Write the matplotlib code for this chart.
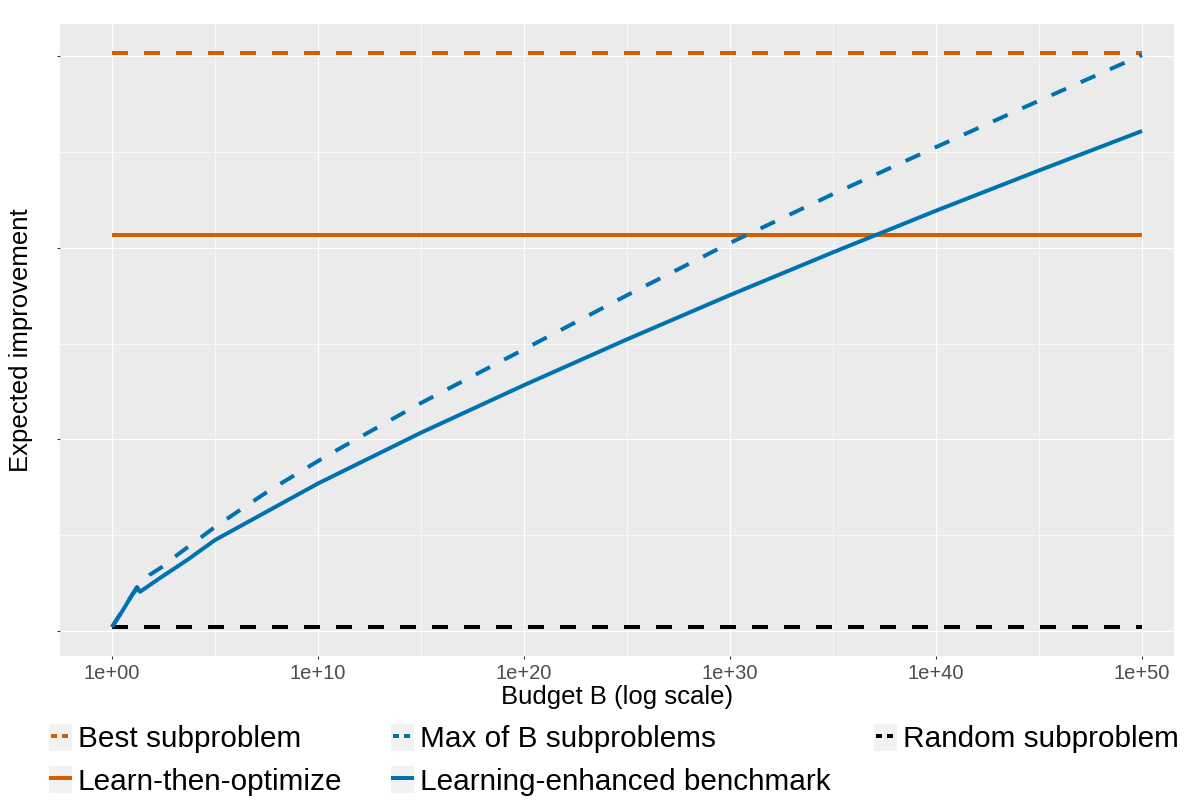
import matplotlib
matplotlib.use("Agg")
import matplotlib.pyplot as plt
import numpy as np
from matplotlib.lines import Line2D
from matplotlib.patches import Rectangle
from matplotlib.legend_handler import HandlerLine2D
from matplotlib.ticker import FixedLocator, NullFormatter

plt.rcParams['font.family'] = ['Liberation Sans', 'DejaVu Sans']

# data (budget given as power of ten)
best_exp = [0, 50]
best_vals = [3.016, 3.016]
lto_exp = [0, 50]
lto_vals = [2.066, 2.066]
random_exp = [0, 50]
random_vals = [0.021, 0.021]

max_exp = [0, 1.0, 1.84, 2.48, 3.2, 5.0, 6.36, 7.67, 9.03, 10.4, 15, 20, 25, 30, 35, 40, 45, 50]
max_vals = [0.021, 0.193, 0.294, 0.338, 0.40, 0.543, 0.642, 0.736, 0.824, 0.913,
            1.19, 1.47, 1.752, 2.025, 2.28, 2.525, 2.767, 3.005]

leb_exp = [0, 0.5, 1.0, 1.21, 1.36, 2.33, 3.64, 5.0, 10, 15, 20, 25, 30, 35, 40, 45, 50]
leb_vals = [0.021, 0.104, 0.193, 0.23, 0.205, 0.277, 0.37, 0.475, 0.77, 1.035,
            1.283, 1.522, 1.753, 1.976, 2.193, 2.403, 2.609]

x_major_exp = [0, 10, 20, 30, 40, 50]
x_minor_exp = [5, 15, 25, 35, 45]
x_tick_labels = ['1e+00', '1e+10', '1e+20', '1e+30', '1e+40', '1e+50']
y_major = [0, 1, 2, 3]
y_minor = [0.5, 1.5, 2.5]

ORANGE = '#D55E00'
BLUE = '#0072B2'
LW = 2.88

def pw(e):
    return 10.0 ** np.asarray(e, dtype=float)

fig = plt.figure(figsize=(12, 8), dpi=100)
ax = fig.add_axes([60 / 1200, 144 / 800, 1114 / 1200, 632 / 800])
ax.set_facecolor('#EBEBEB')
for s in ax.spines.values():
    s.set_visible(False)

ax.set_xscale('log')
ax.set_xlim(10 ** -2.524, 10 ** 51.55)
ax.set_ylim(-0.130, 3.167)

ax.plot(pw(best_exp), best_vals, color=ORANGE, lw=LW, dashes=(4, 4))
ax.plot(pw(lto_exp), lto_vals, color=ORANGE, lw=LW, solid_capstyle='butt')
ax.plot(pw(random_exp), random_vals, color='black', lw=LW, dashes=(4, 4))
ax.plot(pw(max_exp), max_vals, color=BLUE, lw=LW, dashes=(4, 4))
ax.plot(pw(leb_exp), leb_vals, color=BLUE, lw=LW, solid_capstyle='butt')

ax.xaxis.set_major_locator(FixedLocator(pw(x_major_exp)))
ax.xaxis.set_minor_locator(FixedLocator(pw(x_minor_exp)))
ax.set_xticklabels(x_tick_labels)
ax.xaxis.set_minor_formatter(NullFormatter())
ax.set_yticks(y_major)
ax.set_yticks(y_minor, minor=True)
ax.set_yticklabels([''] * len(y_major))

ax.grid(which='major', color='white', lw=0.85)
ax.grid(which='minor', color='white', lw=0.5)
ax.set_axisbelow(True)
ax.tick_params(which='major', length=2.5, width=0.8, color='#333333',
               labelsize=14.5, labelcolor='#4D4D4D', pad=3)
ax.tick_params(which='minor', length=0)

ax.set_xlabel('Budget B (log scale)', fontsize=18.5, labelpad=2)
ax.set_ylabel('Expected improvement', fontsize=18.5)
ax.yaxis.set_label_coords(-0.024, 0.5)


class KeyHandler(HandlerLine2D):
    def create_artists(self, legend, orig_handle, xdescent, ydescent,
                       width, height, fontsize, trans):
        bg = Rectangle((-xdescent, -ydescent), width, height,
                       facecolor='#F2F2F2', edgecolor='none', transform=trans)
        arts = super().create_artists(legend, orig_handle, xdescent, ydescent,
                                      width, height, fontsize, trans)
        return [bg] + list(arts)


def key(color, dashed):
    if dashed:
        return Line2D([], [], color=color, lw=LW, linestyle=(2.25, (1.5, 1.25)))
    return Line2D([], [], color=color, lw=LW, solid_capstyle='butt')


columns = [
    (49, [key(ORANGE, True), key(ORANGE, False)], ['Best subproblem', 'Learn-then-optimize']),
    (391, [key(BLUE, True), key(BLUE, False)], ['Max of B subproblems', 'Learning-enhanced benchmark']),
    (874, [key('black', True)], ['Random subproblem']),
]
for left, handles, labels in columns:
    fig.legend(handles, labels, loc='upper left',
               bbox_to_anchor=(left / 1200, 1 - 724 / 800),
               frameon=False, borderpad=0, borderaxespad=0,
               fontsize=21.4, handlelength=0.775, handleheight=1.0,
               handletextpad=0.2, labelspacing=0.43,
               handler_map={Line2D: KeyHandler()})

fig.savefig('out.png', dpi=100)
